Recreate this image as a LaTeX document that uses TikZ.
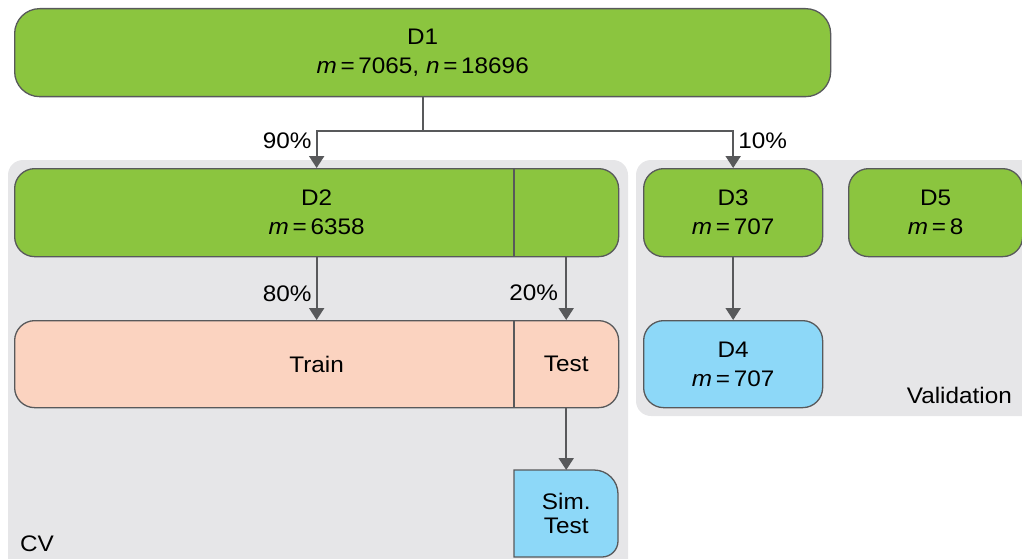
\documentclass[tikz,border=0pt]{standalone}
\usepackage{fontspec}
\setmainfont[FakeStretch=1.08]{Liberation Sans}
\usetikzlibrary{arrows.meta,calc}
\definecolor{leaf}{HTML}{8BC53F}
\definecolor{peach}{HTML}{FBD3C0}
\definecolor{sky}{HTML}{8DD8F8}
\definecolor{panel}{HTML}{E6E6E8}
\definecolor{ink}{HTML}{58595B}
\newcommand{\mv}{\textit{m}\,=\,}
\newcommand{\nv}{\textit{n}\,=\,}
\begin{document}
\begin{tikzpicture}[x=1pt,y=-1pt,
  font=\fontsize{22.5}{29}\selectfont,
  box/.style={draw=ink,line width=1.3pt,rounded corners=20pt,align=center,
    inner sep=0pt,anchor=north west},
  panelbox/.style={fill=panel,rounded corners=15pt},
  part/.style={inner sep=0pt,anchor=north west},
  arr/.style={draw=ink,line width=2pt,-{Triangle[length=12pt,width=15pt]}},
  pct/.style={inner sep=0pt}]
\useasboundingbox (0,0) rectangle (1022,559);
\clip (0,0) rectangle (1022,559);
% background panels
\fill[panelbox] (8,160) rectangle (628,590);
\fill[panelbox] (636,160) rectangle (1060,416);
% top data set
\node[box,fill=leaf,rounded corners=25pt,minimum width=816pt,minimum height=88pt]
  (D1) at (14,8) {D1\\\mv7065, \nv18696};
% cross-validation part
\node[box,fill=leaf,minimum width=604pt,minimum height=88pt] (D2) at (14,168)
  {D2\\\mv6358};
\node[part,minimum width=104pt,minimum height=88pt] (D2r) at (514,168) {};
\draw[ink,line width=1.3pt] (D2r.north west) -- (D2r.south west);
\node[box,fill=peach,minimum width=604pt,minimum height=87pt] (TT) at (14,320)
  {Train};
\node[part,minimum width=104pt,minimum height=87pt] (Test) at (514,320) {Test};
\draw[ink,line width=1.3pt] (Test.north west) -- (Test.south west);
% simulated test block: square on the left, rounded on the right
\draw[ink,fill=sky,line width=1.3pt]
  (514,557) -- (514,470)
  [rounded corners=24pt] -- (618,470)
  [rounded corners=16pt] -- (618,557)
  [sharp corners] -- (514,557) -- cycle;
\node[part,minimum width=104pt,minimum height=87pt,align=center] (Sim)
  at (514,470) {Sim.\\[-5pt]Test};
\node[anchor=base west,inner sep=0pt] (CV) at (20,551) {CV};
% validation part
\node[box,fill=leaf,minimum width=179pt,minimum height=88pt] (D3) at (643,168)
  {D3\\\mv707};
\node[box,fill=leaf,minimum width=174pt,minimum height=88pt] (D5) at (848,168)
  {D5\\\mv8};
\node[box,fill=sky,minimum width=179pt,minimum height=87pt] (D4) at (643,320)
  {D4\\\mv707};
\node[anchor=base east,inner sep=0pt] (Val) at (1012,403) {Validation};
% connectors
\draw[ink,line width=2pt] (D1.south) -- ++(0,34) coordinate (J);
\draw[arr] (J) -| (D2.north);
\draw[arr] (J) -| (D3.north);
\draw[arr] (D2.south) -- (TT.north);
\draw[arr] (D2r.south) -- (Test.north);
\draw[arr] (Test.south) -- (Sim.north);
\draw[arr] (D3.south) -- (D4.north);
% split labels
\node[pct,anchor=base east] at ($(D2.north)+(-5,-19)$) {90\%};
\node[pct,anchor=base west] at ($(D3.north)+(5,-19)$) {10\%};
\node[pct,anchor=base east] at ($(D2.south)+(-5,44)$) {80\%};
\node[pct,anchor=base east] at ($(D2r.south)+(-8,44)$) {20\%};
\end{tikzpicture}
\end{document}
